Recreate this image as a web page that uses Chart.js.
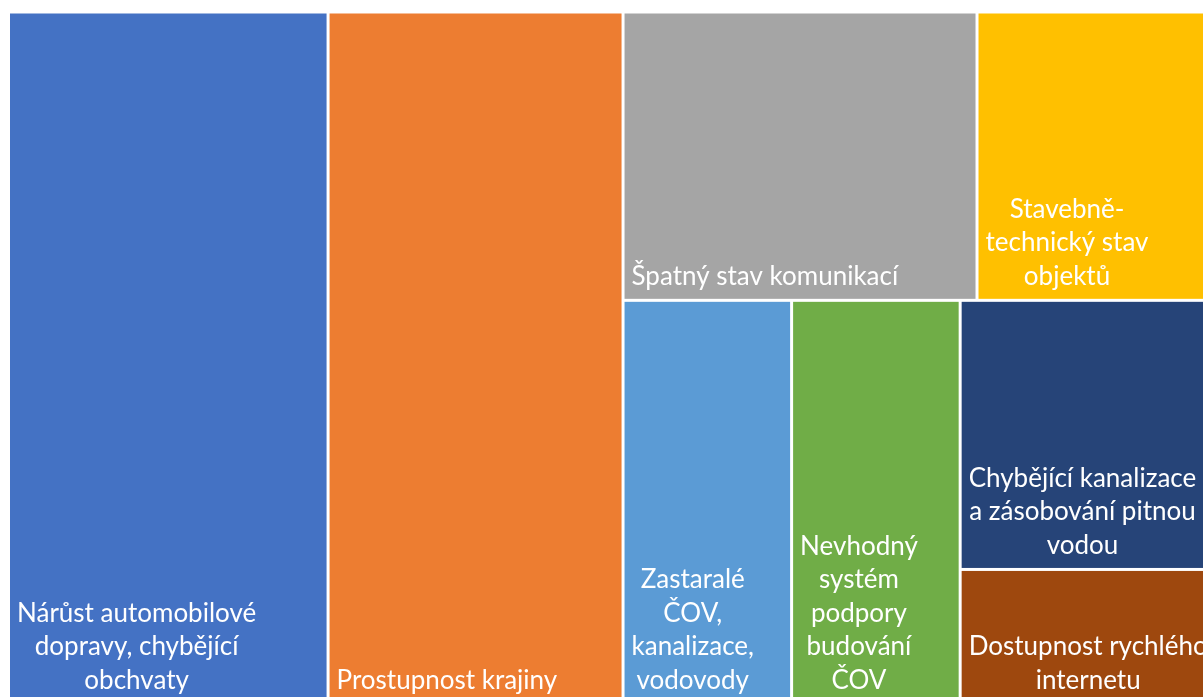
<!DOCTYPE html>
<html lang="cs">
<head>
    <meta charset="UTF-8">
    <title>Treemap</title>
    <script src="https://cdn.jsdelivr.net/npm/chart.js"></script>
    <style>
        html, body { margin: 0; padding: 0; background: #fff; overflow: hidden; }
        #wrap { position: absolute; left: 0; top: 0; width: 1215px; height: 706px; }
    </style>
</head>
<body>
<div id="wrap"><canvas id="treemap"></canvas></div>
<script>
    // labels are already split into lines the way the original wraps them
    const labels = [
        ['Nárůst automobilové', 'dopravy, chybějící', 'obchvaty'],
        ['Prostupnost krajiny'],
        ['Špatný stav komunikací'],
        ['Stavebně-', 'technický stav', 'objektů'],
        ['Zastaralé', 'ČOV,', 'kanalizace,', 'vodovody'],
        ['Nevhodný', 'systém', 'podpory', 'budování', 'ČOV'],
        ['Chybějící kanalizace', 'a zásobování pitnou', 'vodou'],
        ['Dostupnost rychlého', 'internetu']
    ];
    const values = [13, 12, 6, 4, 4, 4, 4, 2];
    const colors = ['#4472C4', '#ED7D31', '#A5A5A5', '#FFC000', '#5B9BD5', '#70AD47', '#264478', '#9E480E'];

    // nesting of the cells: 'row' = side by side, 'col' = stacked
    const layout = ['row', 0, 1, ['col', ['row', 2, 3], ['row', 4, 5, ['col', 6, 7]]]];

    const total = values.reduce((a, b) => a + b, 0);

    function sumOf(node) {
        if (typeof node === 'number') return values[node];
        return node.slice(1).reduce((s, n) => s + sumOf(n), 0);
    }

    // rects in data units: x 0..total, y 0..1
    const rects = [];
    function place(node, x0, y0, x1, y1) {
        if (typeof node === 'number') {
            rects[node] = {x0, y0, x1, y1};
            return;
        }
        const kids = node.slice(1);
        const s = sumOf(node);
        let pos = node[0] === 'row' ? x0 : y0;
        kids.forEach(k => {
            const f = sumOf(k) / s;
            if (node[0] === 'row') {
                const w = (x1 - x0) * f;
                place(k, pos, y0, pos + w, y1);
                pos += w;
            } else {
                const h = (y1 - y0) * f;
                place(k, x0, pos, x1, pos + h);
                pos += h;
            }
        });
    }
    place(layout, 0, 0, total, 1);

    const cellPlugin = {
        id: 'cells',
        afterDatasetsDraw(chart) {
            const ctx = chart.ctx;
            const xs = chart.scales.x, ys = chart.scales.y;
            const gap = 1.5;
            ctx.save();
            ctx.font = '26px Lato';
            ctx.textBaseline = 'alphabetic';
            ctx.textAlign = 'center';
            rects.forEach((r, i) => {
                const left = xs.getPixelForValue(r.x0) + gap;
                const right = xs.getPixelForValue(r.x1) - gap;
                const top = ys.getPixelForValue(r.y0) + gap;
                const bottom = ys.getPixelForValue(r.y1) - gap;
                ctx.fillStyle = colors[i];
                ctx.fillRect(left, top, right - left, bottom - top);

                // label block: bottom-left, lines centred inside the block
                const lines = labels[i];
                const bw = Math.max(...lines.map(l => ctx.measureText(l).width));
                const cx = left + 7 + bw / 2;
                const lh = 33.5;
                ctx.fillStyle = '#fff';
                lines.forEach((l, j) => {
                    const y = bottom - 14 - (lines.length - 1 - j) * lh;
                    ctx.fillText(l, cx, y);
                });
            });
            ctx.restore();
        }
    };

    const chartData = {
        datasets: [{
            label: 'Problémy',
            data: rects.map((r, i) => ({x: (r.x0 + r.x1) / 2, y: (r.y0 + r.y1) / 2, v: values[i]})),
            pointRadius: 0,
            pointHoverRadius: 0
        }]
    };

    const config = {
        type: 'scatter',
        data: chartData,
        options: {
            responsive: true,
            maintainAspectRatio: false,
            animation: false,
            layout: {padding: {left: 8.5, top: 12, right: 2, bottom: 2}},
            plugins: {legend: {display: false}, tooltip: {enabled: false}},
            scales: {
                x: {type: 'linear', min: 0, max: total, display: false},
                y: {type: 'linear', min: 0, max: 1, reverse: true, display: false}
            }
        },
        plugins: [cellPlugin]
    };

    new Chart(document.getElementById('treemap'), config);
</script>
</body>
</html>
